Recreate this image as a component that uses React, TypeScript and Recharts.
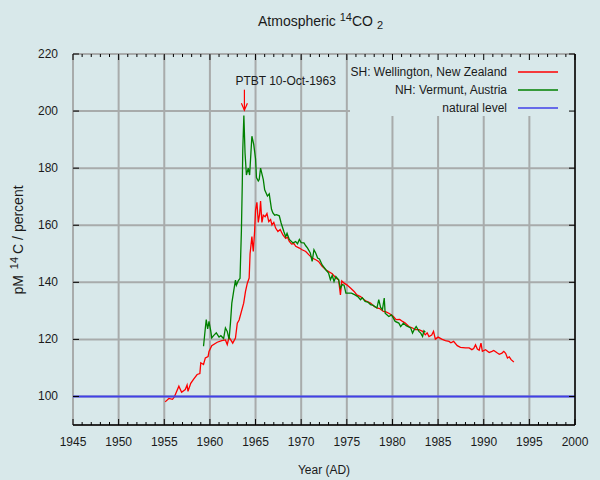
import React from 'react';
import { LineChart, Line, XAxis, YAxis, CartesianGrid, ReferenceLine, Customized } from 'recharts';

// ---- data ----
const X_DOMAIN: [number, number] = [1945, 2000];
const Y_DOMAIN: [number, number] = [90, 220];
const YEAR_LABELS = [1945, 1950, 1955, 1960, 1965, 1970, 1975, 1980, 1985, 1990, 1995, 2000];
const YEAR_MINOR_TICKS = [
  1945, 1946, 1947, 1948, 1949, 1950, 1951, 1952, 1953, 1954, 1955, 1956, 1957, 1958, 1959,
  1960, 1961, 1962, 1963, 1964, 1965, 1966, 1967, 1968, 1969, 1970, 1971, 1972, 1973, 1974,
  1975, 1976, 1977, 1978, 1979, 1980, 1981, 1982, 1983, 1984, 1985, 1986, 1987, 1988, 1989,
  1990, 1991, 1992, 1993, 1994, 1995, 1996, 1997, 1998, 1999, 2000,
];
const PMC_LABELS = [100, 120, 140, 160, 180, 200, 220];
const NATURAL_LEVEL = 100;
const NATURAL_YEARS = [1945, 2000];
const PTBT_DATE = 1963.78;
const PTBT_ARROW: [number, number] = [207.5, 200.3];

const SH_WELLINGTON: [number, number][] = [
  [1955.1, 98.1], [1955.5, 99.3], [1955.9, 99.0], [1956.1, 99.8], [1956.6, 103.6], [1956.9, 101.5],
  [1957.3, 102.4], [1957.5, 104.0], [1957.6, 101.8], [1957.9, 104.6], [1958.2, 106.0], [1958.6, 107.7],
  [1958.9, 108.0], [1959.0, 111.8], [1959.3, 111.2], [1959.5, 113.5], [1959.8, 114.0], [1959.9, 115.8],
  [1960.2, 117.8], [1960.8, 119.0], [1961.3, 119.6], [1961.7, 119.8], [1961.9, 118.2], [1962.1, 120.8],
  [1962.5, 118.7], [1962.8, 120.5], [1963.0, 125.7], [1963.2, 126.8], [1963.7, 132.7], [1963.9, 136.8],
  [1964.1, 139.7], [1964.3, 141.5], [1964.4, 150.0], [1964.6, 156.0], [1964.75, 150.8], [1964.9, 158.0],
  [1965.0, 165.3], [1965.15, 168.0], [1965.3, 161.0], [1965.45, 164.0], [1965.55, 168.5], [1965.7, 161.0],
  [1965.85, 163.5], [1966.05, 163.0], [1966.25, 164.1], [1966.45, 161.3], [1966.65, 162.0], [1966.8, 160.1],
  [1967.0, 161.0], [1967.2, 159.0], [1967.45, 157.8], [1967.7, 158.5], [1968.0, 156.6], [1968.3, 155.4],
  [1968.5, 155.8], [1968.7, 154.3], [1968.95, 153.4], [1969.2, 153.6], [1969.4, 152.6], [1969.8, 152.0],
  [1970.1, 151.4], [1970.5, 150.8], [1970.85, 149.6], [1971.2, 148.5], [1971.6, 147.9], [1971.9, 147.3],
  [1972.3, 145.6], [1972.7, 144.4], [1973.0, 143.8], [1973.4, 143.0], [1973.8, 141.5], [1974.1, 140.9],
  [1974.3, 135.6], [1974.45, 140.5], [1974.7, 139.7], [1975.0, 139.1], [1975.4, 138.0], [1975.8, 136.8],
  [1976.1, 135.6], [1976.5, 135.0], [1976.9, 133.9], [1977.2, 133.3], [1977.6, 132.7], [1978.0, 131.5],
  [1978.3, 131.0], [1978.6, 130.8], [1979.0, 129.8], [1979.3, 129.6], [1979.7, 129.0], [1980.1, 128.0],
  [1980.4, 126.9], [1980.8, 127.0], [1981.1, 126.3], [1981.4, 125.7], [1981.8, 124.5], [1982.2, 124.0],
  [1982.5, 123.4], [1982.9, 123.4], [1983.3, 122.8], [1983.6, 121.6], [1983.8, 122.3], [1984.0, 121.0],
  [1984.3, 121.5], [1984.5, 122.8], [1984.7, 120.1], [1985.0, 120.8], [1985.4, 120.1], [1985.8, 119.6],
  [1986.2, 119.3], [1986.4, 118.8], [1986.7, 119.3], [1987.1, 117.8], [1987.45, 117.2], [1988.0, 117.0],
  [1988.4, 117.0], [1988.7, 116.4], [1988.9, 116.8], [1989.1, 118.1], [1989.3, 116.6], [1989.5, 116.2],
  [1989.7, 118.7], [1989.85, 115.8], [1990.2, 116.4], [1990.6, 115.4], [1990.9, 115.8], [1991.1, 116.1],
  [1991.5, 115.2], [1991.7, 114.8], [1992.0, 115.2], [1992.2, 115.8], [1992.4, 115.1], [1992.6, 113.5],
  [1992.8, 113.9], [1993.0, 112.9], [1993.3, 112.1],
];

const NH_VERMUNT: [number, number][] = [
  [1959.3, 117.6], [1959.5, 124.0], [1959.6, 126.9], [1959.75, 123.7], [1959.9, 126.3], [1960.1, 122.8],
  [1960.2, 120.5], [1960.4, 121.3], [1960.7, 122.3], [1961.0, 120.8], [1961.2, 121.3], [1961.5, 120.3],
  [1961.7, 124.0], [1961.9, 122.8], [1962.1, 120.0], [1962.25, 125.7], [1962.4, 132.7], [1962.6, 136.8],
  [1962.8, 140.8], [1962.9, 139.0], [1963.1, 140.5], [1963.3, 141.4], [1963.45, 158.0], [1963.55, 175.0],
  [1963.6, 186.2], [1963.72, 198.4], [1963.85, 185.2], [1964.0, 177.6], [1964.2, 180.0], [1964.35, 177.6],
  [1964.6, 191.2], [1964.8, 188.3], [1965.0, 183.3], [1965.1, 176.7], [1965.3, 175.5], [1965.4, 176.0],
  [1965.55, 180.0], [1965.85, 176.0], [1966.0, 172.4], [1966.3, 170.2], [1966.5, 171.0], [1966.75, 165.6],
  [1966.9, 164.3], [1967.1, 163.5], [1967.3, 163.7], [1967.6, 163.3], [1967.8, 160.8], [1968.1, 157.8],
  [1968.3, 156.0], [1968.45, 157.2], [1968.7, 155.0], [1969.1, 153.8], [1969.4, 154.3], [1969.6, 153.5],
  [1969.8, 155.0], [1970.0, 153.9], [1970.3, 153.8], [1970.5, 152.8], [1970.7, 152.0], [1971.0, 150.3],
  [1971.2, 147.3], [1971.4, 151.4], [1971.6, 150.2], [1971.8, 148.5], [1972.0, 148.2], [1972.3, 146.1],
  [1972.7, 144.4], [1973.0, 143.2], [1973.2, 140.9], [1973.4, 142.4], [1973.6, 140.3], [1973.8, 142.0],
  [1974.1, 140.9], [1974.3, 138.0], [1974.5, 139.2], [1974.7, 139.0], [1974.9, 136.2], [1975.2, 136.2],
  [1975.5, 136.2], [1975.9, 135.6], [1976.2, 135.0], [1976.5, 133.9], [1976.7, 134.6], [1977.0, 133.3],
  [1977.3, 133.1], [1977.6, 132.2], [1977.9, 131.9], [1978.3, 131.0], [1978.5, 133.9], [1978.7, 131.2],
  [1978.9, 130.4], [1979.1, 134.5], [1979.2, 129.2], [1979.6, 128.0], [1979.9, 128.6], [1980.3, 126.3],
  [1980.7, 125.7], [1980.9, 124.5], [1981.2, 125.7], [1981.5, 124.8], [1982.0, 124.0], [1982.2, 122.2],
  [1982.4, 123.5], [1982.6, 124.5], [1982.9, 122.8], [1983.1, 122.2], [1983.3, 121.0], [1983.45, 123.0],
  [1983.6, 122.5],
];

// ---- styles ----
const FONT = '"Liberation Sans", Arial, Helvetica, sans-serif';
const BG = '#d8e8ea';
const TEXT = '#1a1a1a';
const GRID = '#a8abab';
const RED = '#ff0000';
const GREEN = '#008000';
const BLUE = '#4040e8';

const toPoints = (arr: [number, number][]) => arr.map(([x, y]) => ({ x, y }));
const shData = toPoints(SH_WELLINGTON);
const nhData = toPoints(NH_VERMUNT);
const naturalData = NATURAL_YEARS.map((x) => ({ x, y: NATURAL_LEVEL }));

const isMajorYear = (v: number) => YEAR_LABELS.includes(v);

const BottomTick = (props: any) => {
  const { x, y, payload } = props;
  const v = payload.value;
  const major = isMajorYear(v);
  return (
    <g>
      <line x1={x} x2={x} y1={y} y2={y - (major ? 6 : 3)} stroke="#000" strokeWidth={1} />
      {major && (
        <text x={x} y={y + 21} textAnchor="middle" fontSize={12} fontFamily={FONT} fill={TEXT}>
          {v}
        </text>
      )}
    </g>
  );
};

const TopTick = (props: any) => {
  const { x, y, payload } = props;
  const major = isMajorYear(payload.value);
  return <line x1={x} x2={x} y1={y} y2={y + (major ? 6 : 3)} stroke="#000" strokeWidth={1} />;
};

const LeftTick = (props: any) => {
  const { x, y, payload } = props;
  return (
    <g>
      <line x1={x} x2={x + 6} y1={y} y2={y} stroke="#000" strokeWidth={1} />
      <text x={x - 15} y={y + 4} textAnchor="end" fontSize={12} fontFamily={FONT} fill={TEXT}>
        {payload.value}
      </text>
    </g>
  );
};

const RightTick = (props: any) => {
  const { x, y } = props;
  return <line x1={x} x2={x - 6} y1={y} y2={y} stroke="#000" strokeWidth={1} />;
};

const ArrowShape = (props: any) => {
  const { x1, y1, x2, y2 } = props;
  return (
    <g>
      <line x1={x1} y1={y1} x2={x2} y2={y2} stroke={RED} strokeWidth={1.2} />
      <path d={`M${x2 - 3},${y2 - 7} L${x2},${y2} L${x2 + 3},${y2 - 7}`} stroke={RED} strokeWidth={1.2} fill="none" />
      <text x={x1 - 9} y={y1 - 5} fontSize={12} fontFamily={FONT} fill={TEXT}>
        PTBT 10-Oct-1963
      </text>
    </g>
  );
};

const LEGEND_ITEMS = [
  { label: 'SH: Wellington, New Zealand', color: RED },
  { label: 'NH: Vermunt, Austria', color: GREEN },
  { label: 'natural level', color: BLUE },
];

const Decorations = () => (
  <g fontFamily={FONT} fill={TEXT}>
    <text x={258} y={26} fontSize={14}>
      Atmospheric{' '}
      <tspan fontSize={11} dy={-5}>14</tspan>
      <tspan dy={5}>CO</tspan>
      <tspan fontSize={11} dx={4} dy={3}>2</tspan>
    </text>
    <text transform="translate(23,240) rotate(-90)" x={0} y={0} fontSize={14} textAnchor="middle">
      pM
      <tspan fontSize={11} dx={6} dy={-5}>14</tspan>
      <tspan dx={3} dy={5}>C / percent</tspan>
    </text>
    <text x={324} y={474} fontSize={12} textAnchor="middle">Year (AD)</text>
    <rect x={350} y={55} width={224} height={61} fill={BG} />
    {LEGEND_ITEMS.map((it, i) => (
      <g key={it.label}>
        <text x={507} y={76 + i * 18} fontSize={12} textAnchor="end">{it.label}</text>
        <line x1={518} x2={558} y1={72 + i * 18} y2={72 + i * 18} stroke={it.color} strokeWidth={1.5} />
      </g>
    ))}
  </g>
);

export default function App() {
  return (
    <div style={{ position: 'absolute', left: 0, top: 0, width: 600, height: 480, background: BG }}>
      <LineChart width={600} height={480} margin={{ top: 53, right: 24, bottom: 25, left: 13 }}>
        <XAxis xAxisId="grid" type="number" dataKey="x" domain={X_DOMAIN} ticks={YEAR_LABELS} hide allowDataOverflow />
        <CartesianGrid xAxisId="grid" stroke={GRID} strokeWidth={2} horizontal={false} />
        <CartesianGrid stroke={GRID} strokeWidth={2} vertical={false} />
        <Line data={shData} dataKey="y" type="linear" stroke={RED} strokeWidth={1.3} dot={false} isAnimationActive={false} />
        <Line data={nhData} dataKey="y" type="linear" stroke={GREEN} strokeWidth={1.3} dot={false} isAnimationActive={false} />
        <Line data={naturalData} dataKey="y" type="linear" stroke={BLUE} strokeWidth={2} dot={false} isAnimationActive={false} />
        <ReferenceLine
          segment={[{ x: PTBT_DATE, y: PTBT_ARROW[0] }, { x: PTBT_DATE, y: PTBT_ARROW[1] }]}
          shape={ArrowShape}
        />
        <Customized component={Decorations} />
        <XAxis
          type="number"
          dataKey="x"
          domain={X_DOMAIN}
          ticks={YEAR_MINOR_TICKS}
          interval={0}
          height={30}
          tickSize={0}
          tickMargin={0}
          tickLine={false}
          tick={BottomTick}
          axisLine={{ stroke: '#000', strokeWidth: 1.5 }}
          allowDataOverflow
        />
        <XAxis
          xAxisId="top"
          orientation="top"
          type="number"
          dataKey="x"
          domain={X_DOMAIN}
          ticks={YEAR_MINOR_TICKS}
          interval={0}
          height={1}
          tickSize={0}
          tickMargin={0}
          tickLine={false}
          tick={TopTick}
          axisLine={false}
          allowDataOverflow
        />
        <YAxis
          type="number"
          domain={Y_DOMAIN}
          ticks={PMC_LABELS}
          interval={0}
          width={60}
          tickSize={0}
          tickMargin={0}
          tickLine={false}
          tick={LeftTick}
          axisLine={false}
          allowDataOverflow
        />
        <YAxis
          yAxisId="right"
          orientation="right"
          type="number"
          domain={Y_DOMAIN}
          ticks={PMC_LABELS}
          interval={0}
          width={1}
          tickSize={0}
          tickMargin={0}
          tickLine={false}
          tick={RightTick}
          axisLine={{ stroke: '#000', strokeWidth: 1.5 }}
          allowDataOverflow
        />
      </LineChart>
    </div>
  );
}
